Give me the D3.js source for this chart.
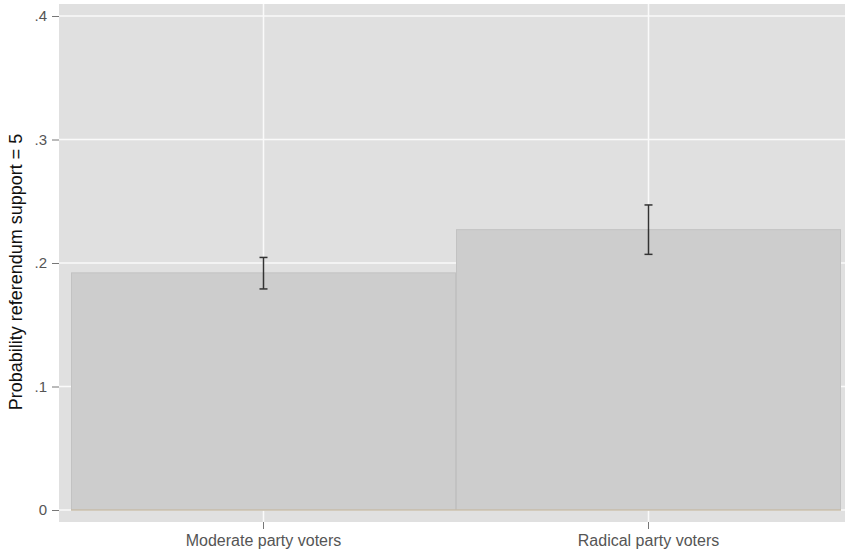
<!DOCTYPE html>
<html><head><meta charset="utf-8">
<script src="https://cdn.jsdelivr.net/npm/d3@7"></script>
<style>body{margin:0;background:#fff;} text{font-family:"Liberation Sans",Arial,Helvetica,sans-serif;}</style>
</head><body>
<svg id="c" width="845" height="553"></svg>
<script>
const categories = ["Moderate party voters", "Radical party voters"];
const values = [0.192, 0.227];
const ciLow = [0.179, 0.207];
const ciHigh = [0.2045, 0.247];
const yTicks = [0, 0.1, 0.2, 0.3, 0.4];
const yTickLabels = ["0", ".1", ".2", ".3", ".4"];
const yTitle = "Probability referendum support = 5";

const svg = d3.select("#c");
const plot = {x0: 59, x1: 845, y0: 4, y1: 522};
const y = d3.scaleLinear().domain([0, 0.4]).range([510, 16]);
const x = d3.scaleBand().domain(categories).range([71, 841]).padding(0);

svg.append("rect").attr("x", plot.x0).attr("y", plot.y0).attr("width", plot.x1 - plot.x0).attr("height", plot.y1 - plot.y0).attr("fill", "#e0e0e0");

// gridlines
svg.append("g").selectAll("line").data(yTicks).join("line")
  .attr("x1", plot.x0).attr("x2", plot.x1).attr("y1", d => y(d)).attr("y2", d => y(d))
  .attr("stroke", "#fafafa").attr("stroke-width", 1.5);
svg.append("g").selectAll("line").data(categories).join("line")
  .attr("x1", d => x(d) + x.bandwidth() / 2).attr("x2", d => x(d) + x.bandwidth() / 2)
  .attr("y1", plot.y0).attr("y2", plot.y1)
  .attr("stroke", "#fafafa").attr("stroke-width", 1.5);

// bars
svg.append("g").selectAll("rect").data(categories).join("rect")
  .attr("x", d => x(d) + 0.5).attr("width", x.bandwidth() - 1)
  .attr("y", (d, i) => y(values[i])).attr("height", (d, i) => y(0) - y(values[i]))
  .attr("fill", "#cdcdcd").attr("stroke", "#c2c2c2").attr("stroke-width", 1);
svg.append("line").attr("x1", x.range()[0]).attr("x2", x.range()[1]).attr("y1", y(0)).attr("y2", y(0))
  .attr("stroke", "#c9b99c").attr("stroke-width", 1);

// error bars
const eb = svg.append("g").attr("stroke", "#333").attr("stroke-width", 1.5);
categories.forEach((c, i) => {
  const cx = x(c) + x.bandwidth() / 2;
  eb.append("line").attr("x1", cx).attr("x2", cx).attr("y1", y(ciLow[i])).attr("y2", y(ciHigh[i]));
  eb.append("line").attr("x1", cx - 4).attr("x2", cx + 4).attr("y1", y(ciLow[i])).attr("y2", y(ciLow[i]));
  eb.append("line").attr("x1", cx - 4).attr("x2", cx + 4).attr("y1", y(ciHigh[i])).attr("y2", y(ciHigh[i]));
});

// y axis
const ya = svg.append("g").attr("transform", `translate(${plot.x0},0)`)
  .call(d3.axisLeft(y).tickValues(yTicks).tickFormat((d, i) => yTickLabels[i]).tickSize(7).tickPadding(5));
ya.select(".domain").remove();
ya.selectAll("line").attr("stroke", "#777");
ya.selectAll("text").attr("fill", "#555").style("font-size", "15px");

// x axis
const xa = svg.append("g").attr("transform", `translate(0,${plot.y1})`)
  .call(d3.axisBottom(x).tickSize(7).tickPadding(6));
xa.select(".domain").remove();
xa.selectAll("line").attr("stroke", "#777");
xa.selectAll("text").attr("fill", "#555").style("font-size", "16px");

svg.append("text").attr("transform", `translate(22,272) rotate(-90)`)
  .attr("text-anchor", "middle").attr("fill", "#111").style("font-size", "18px").text(yTitle);
</script>
</body></html>
